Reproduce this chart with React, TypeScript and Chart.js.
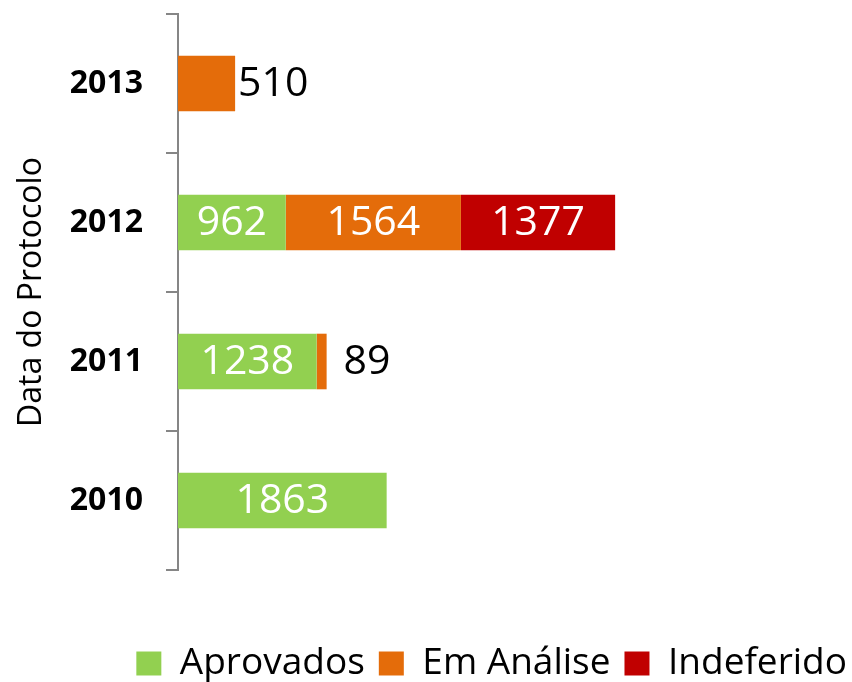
import React, { useEffect, useRef } from "react";
import { Chart, registerables } from "chart.js";
Chart.register(...registerables);

const categories = ["2013", "2012", "2011", "2010"];
const aprovados = [null, 962, 1238, 1863];
const emAnalise = [510, 1564, 89, null];
const indeferido = [null, 1377, null, null];
const seriesNames = ["Aprovados", "Em Análise", "Indeferido"];
const seriesColors = ["#92D050", "#E46C0A", "#C00000"];
const xMax = 6000;
const axisTitle = "Data do Protocolo";

const FONT = "'Open Sans', sans-serif";
const outsideOffsets: Record<string, number> = { "1-0": 3, "1-2": 17 };

const labelPlugin = {
  id: "barLabels",
  afterLayout(chart: any) {
    if (chart.legend) {
      chart.legend.left += 11;
      chart.legend.right += 11;
    }
  },
  afterDatasetsDraw(chart: any) {
    const ctx = chart.ctx;
    ctx.save();
    ctx.font = `41px ${FONT}`;
    ctx.textBaseline = "middle";
    chart.data.datasets.forEach((ds: any, di: number) => {
      const meta = chart.getDatasetMeta(di);
      meta.data.forEach((el: any, i: number) => {
        const v = ds.data[i];
        if (v == null) return;
        const { x, y, base } = el.getProps(["x", "y", "base"], true);
        const w = Math.abs(x - base);
        const text = String(v);
        const tw = ctx.measureText(text).width;
        if (tw + 8 <= w) {
          ctx.fillStyle = "#ffffff";
          ctx.textAlign = "center";
          ctx.fillText(text, (x + base) / 2, y + 1);
        } else {
          ctx.fillStyle = "#000000";
          ctx.textAlign = "left";
          ctx.fillText(text, x + (outsideOffsets[`${di}-${i}`] ?? 4), y + 1);
        }
      });
    });
    ctx.restore();
  },
};

export default function App() {
  const ref = useRef<HTMLCanvasElement>(null);
  useEffect(() => {
    const series = [aprovados, emAnalise, indeferido];
    const chart = new Chart(ref.current!, {
      type: "bar",
      data: {
        labels: categories,
        datasets: series.map((d, k) => ({
          label: seriesNames[k],
          data: d,
          backgroundColor: seriesColors[k],
          borderWidth: 0,
          categoryPercentage: 0.4,
          barPercentage: 1,
        })),
      },
      options: {
        indexAxis: "y",
        responsive: false,
        animation: false,
        layout: { padding: { top: 14, right: 2, left: 0, bottom: 0 } },
        scales: {
          x: {
            stacked: true,
            min: 0,
            max: xMax,
            display: true,
            ticks: { display: false },
            grid: { display: false },
            border: { display: false },
            afterFit: (s: any) => {
              s.height = 61;
              s.paddingLeft = 0;
              s.paddingRight = 0;
            },
          },
          y: {
            stacked: true,
            grid: {
              display: true,
              drawOnChartArea: false,
              tickLength: 12,
              color: "#868686",
              lineWidth: 2,
              offset: true,
            },
            border: { display: true, color: "#868686", width: 2 },
            ticks: {
              color: "#000000",
              font: { family: FONT, size: 32, weight: "bold" },
              padding: 23,
            },
            title: {
              display: true,
              text: axisTitle,
              color: "#000000",
              font: { family: FONT, size: 32 },
              padding: { top: 13, bottom: 0 },
            },
            afterFit: (s: any) => {
              s.width = 178;
              s.paddingTop = 0;
              s.paddingBottom = 0;
            },
          },
        },
        plugins: {
          legend: {
            position: "bottom",
            align: "end",
            labels: {
              boxWidth: 25,
              boxHeight: 24,
              padding: 14,
              color: "#000000",
              font: { family: FONT, size: 37 },
            },
          },
          tooltip: { enabled: false },
        },
      } as any,
      plugins: [labelPlugin],
    });
    return () => chart.destroy();
  }, []);
  return (
    <div style={{ position: "absolute", left: 0, top: 0, width: 852, height: 682, overflow: "hidden", background: "#fff" }}>
      <canvas ref={ref} width={852} height={692} />
    </div>
  );
}
